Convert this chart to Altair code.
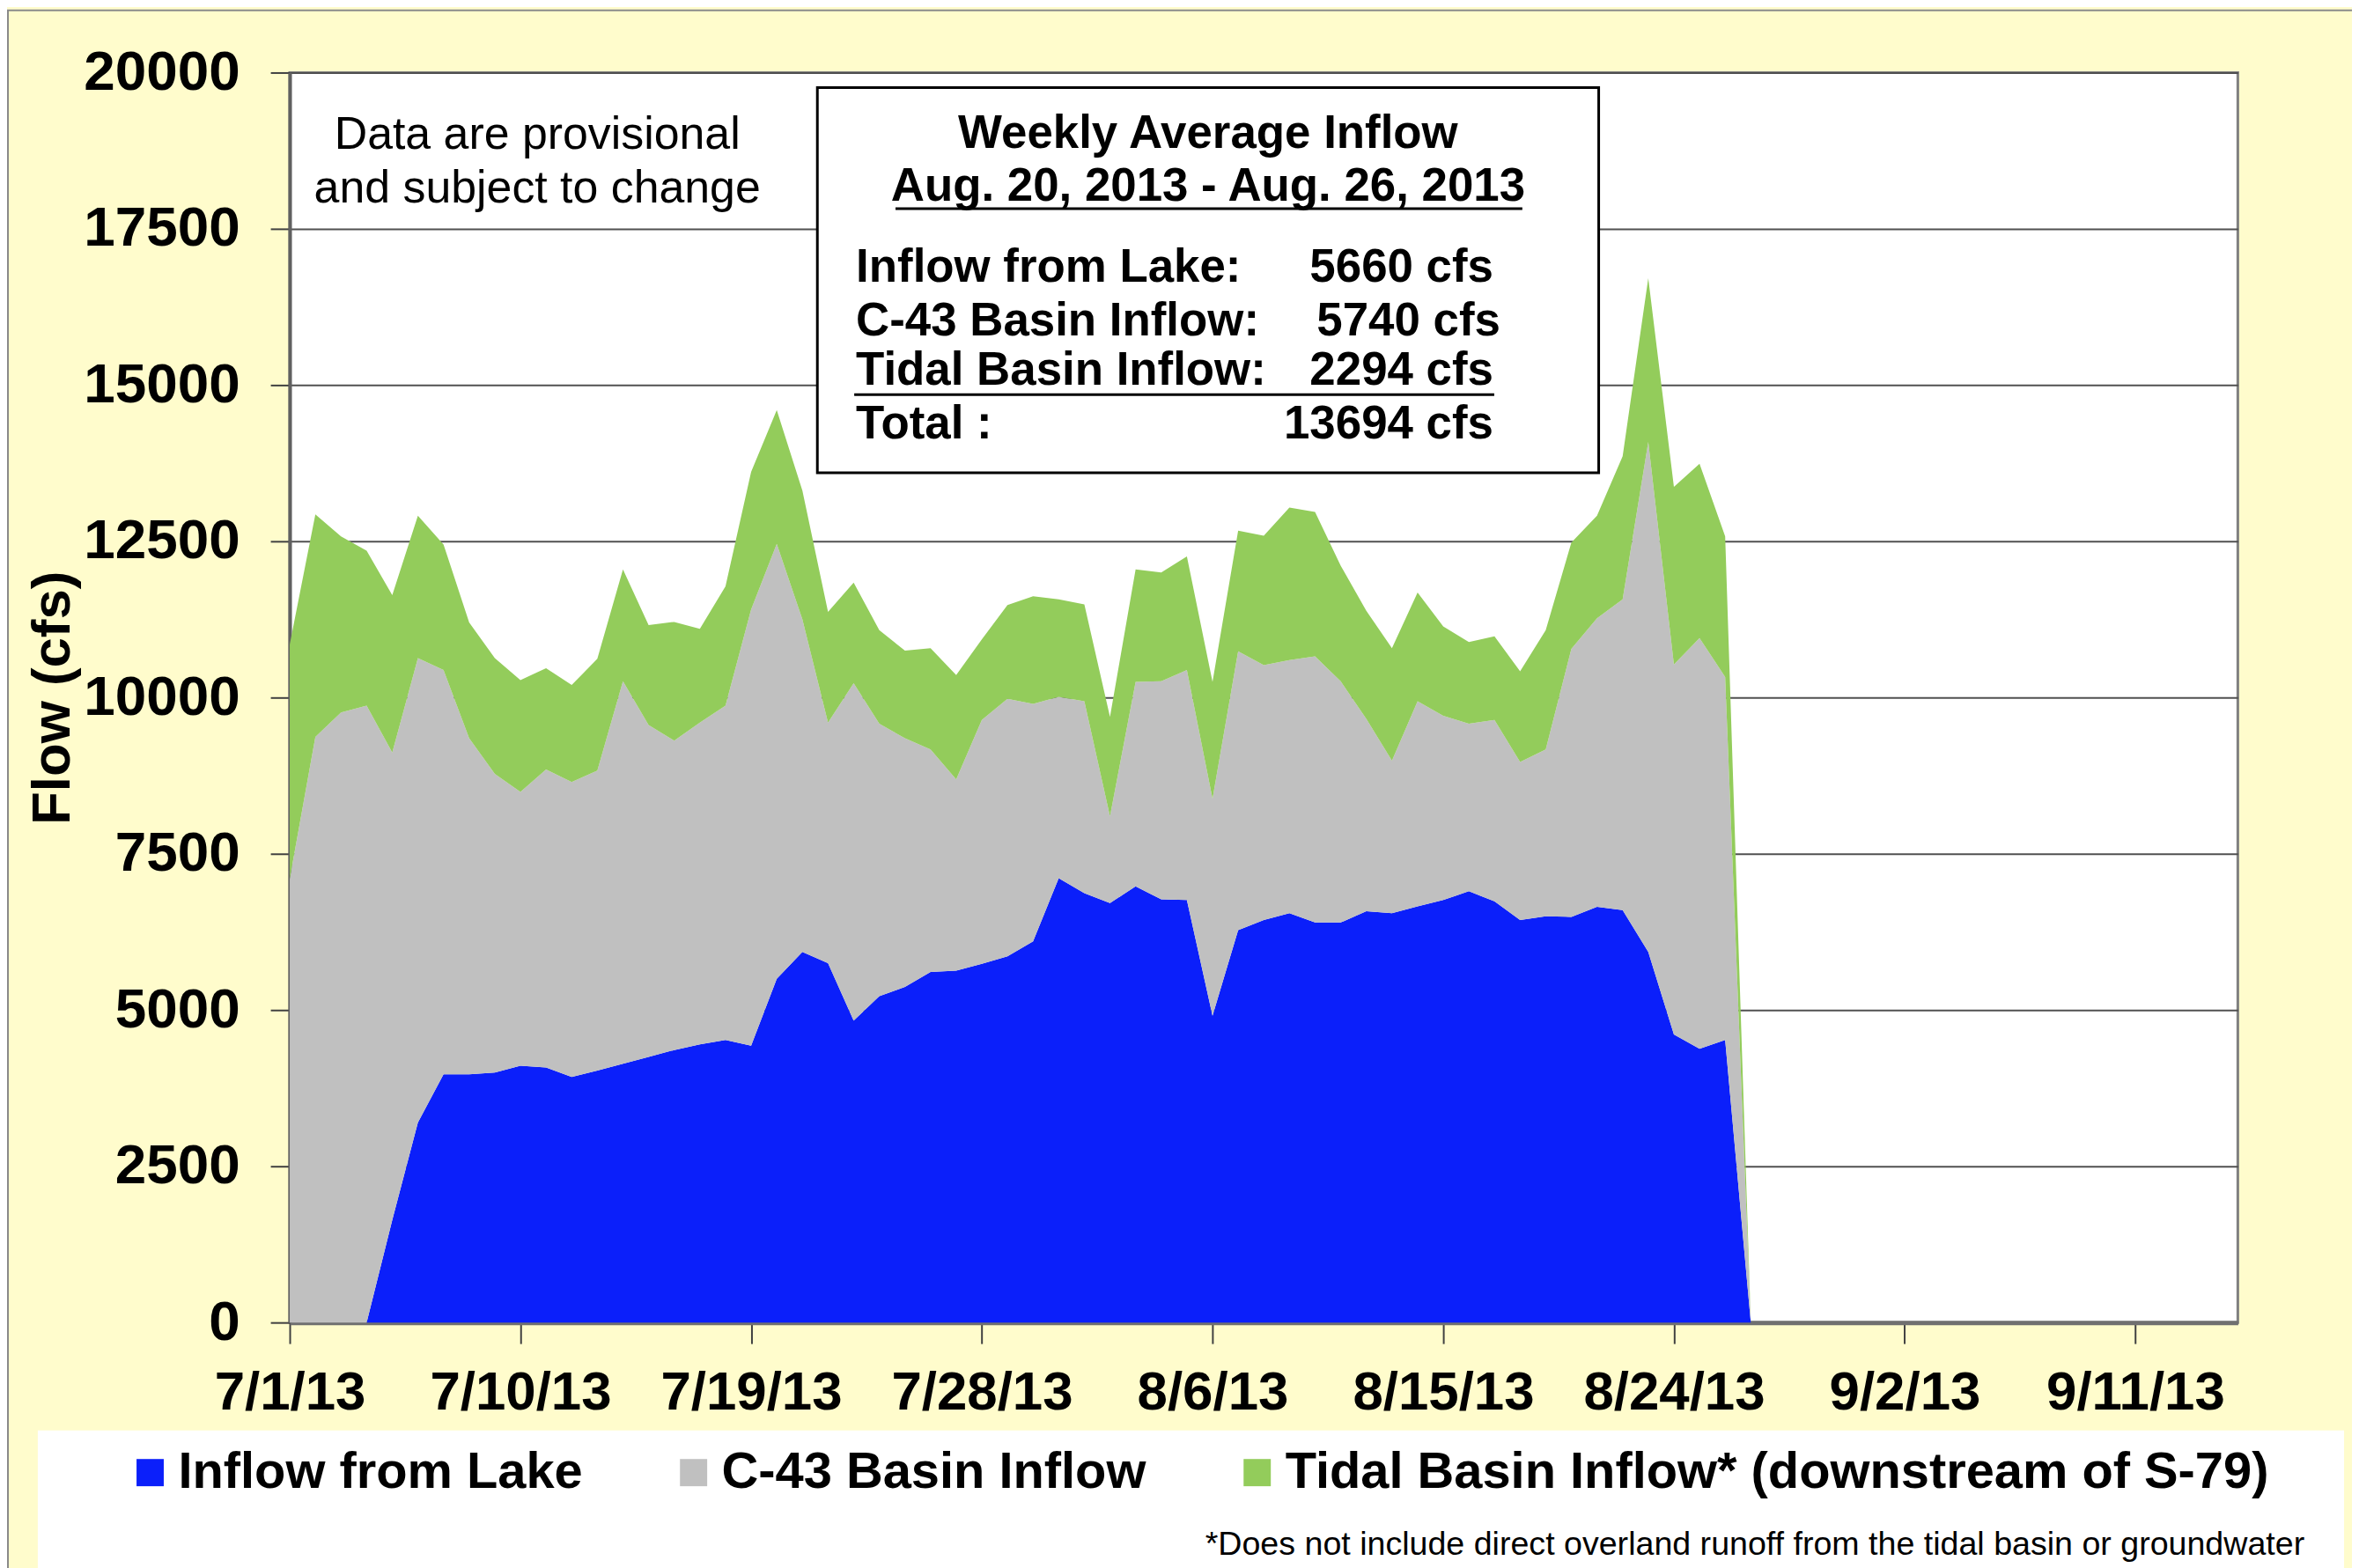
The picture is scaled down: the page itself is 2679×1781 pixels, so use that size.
import altair as alt
import pandas as pd

# ---------------- data ----------------
dates = pd.date_range("2013-07-01", "2013-08-27", freq="D").strftime("%Y-%m-%dT00:00:00Z").tolist()

lake = [0, 0, 0, 0, 1640, 3200, 3970, 3970, 4000, 4110,
        4080, 3930, 4030, 4140, 4250, 4360, 4450, 4520, 4430, 5500,
        5930, 5750, 4830, 5220, 5370, 5610, 5630, 5740, 5860, 6100,
        7110, 6870, 6710, 6980, 6770, 6760, 4910, 6280, 6440, 6550,
        6400, 6400, 6580, 6550, 6660, 6760, 6900, 6740, 6440, 6500,
        6490, 6650, 6600, 5930, 4610, 4380, 4520, 0]

c43 = [7100, 9370, 9760, 9870, 7480, 7430, 6470, 5380, 4780, 4380,
       4770, 4720, 4800, 6120, 5310, 4950, 5150, 5350, 6980, 6960,
       5320, 3850, 5400, 4360, 3980, 3560, 3060, 3900, 4120, 3800,
       2900, 3070, 1390, 3270, 3490, 3680, 3470, 4460, 4080, 4050,
       4260, 3860, 3080, 2440, 3280, 2950, 2680, 2900, 2530, 2670,
       4290, 4620, 4970, 8160, 5920, 6570, 5810, 0]

tidal = [3750, 3560, 2820, 2480, 2520, 2280, 2010, 1850, 1850, 1790,
         1620, 1550, 1790, 1790, 1600, 1900, 1500, 1910, 2200, 2140,
         2060, 1770, 1610, 1500, 1400, 1620, 1670, 1290, 1500, 1720,
         1560, 1550, 1590, 1800, 1740, 1820, 1870, 1930, 2070, 2440,
         2310, 1850, 1730, 1800, 1740, 1430, 1310, 1340, 1450, 1910,
         1700, 1640, 2290, 2620, 2840, 2790, 2250, 0]

series_names = ["Inflow from Lake", "C-43 Basin Inflow", "Tidal Basin Inflow* (downstream of S-79)"]
series_colors = ["#0B1FFA", "#C0C0C0", "#93CC5B"]
y_ticks = [0, 2500, 5000, 7500, 10000, 12500, 15000, 17500, 20000]
x_tick_days = [(7, 1), (7, 10), (7, 19), (7, 28), (8, 6), (8, 15), (8, 24), (9, 2), (9, 11)]
x_domain_days = [(7, 1), (9, 15)]

box_title = "Weekly Average Inflow"
box_period = "Aug. 20, 2013 - Aug. 26, 2013"
box_labels = ["Inflow from Lake:", "C-43 Basin Inflow:", "Tidal Basin Inflow:", "Total :"]
box_values = ["5660 cfs", "5740 cfs", "2294 cfs", "13694 cfs"]
note_lines = ["Data are provisional", "and subject to change"]
footnote = "*Does not include direct overland runoff from the tidal basin or groundwater"

FONT = "Liberation Sans, Arial, sans-serif"

# ---------------- build table ----------------
rows = []
for i, d in enumerate(dates):
    for k, vals in enumerate([lake, c43, tidal]):
        rows.append({"date": d, "series": series_names[k], "flow": vals[i], "ord": k})
df = pd.DataFrame(rows)


def dt(m, d):
    return alt.DateTime(year=2013, month=m, date=d, utc=True)


W, H = 2219, 1424

base = alt.Chart(df).mark_area(opacity=1, interpolate="linear").encode(
    x=alt.X(
        "date:T",
        title=None,
        scale=alt.Scale(type="utc", domain=[dt(*x_domain_days[0]), dt(*x_domain_days[1])]),
        axis=alt.Axis(
            values=[dt(m, d) for m, d in x_tick_days],
            labelExpr="utcFormat(datum.value, '%-m/%-d/%y')",
            grid=False,
            labelFont=FONT, labelFontWeight="bold", labelFontSize=62, labelColor="black",
            labelPadding=26, tickSize=24, tickWidth=2, tickColor="#404040",
            domainColor="#707070", domainWidth=5, labelFlush=False, labelOverlap=False,
            labelLimit=1000,
        ),
    ),
    y=alt.Y(
        "flow:Q",
        stack="zero",
        scale=alt.Scale(domain=[0, 20000], nice=False),
        axis=alt.Axis(
            values=y_ticks, format="d",
            title="Flow (cfs)",
            titleFont=FONT, titleFontWeight="bold", titleFontSize=62, titleColor="black",
            titleAngle=-90, titleX=-270, titleY=H / 2, titleAlign="center", titleBaseline="middle",
            labelFont=FONT, labelFontWeight="bold", labelFontSize=64, labelColor="black",
            labelPadding=35, tickSize=22, tickWidth=2, tickColor="#404040",
            domainColor="#606060", domainWidth=4, labelLimit=1000,
            gridColor="#505050", gridWidth=2,
        ),
    ),
    color=alt.Color(
        "series:N",
        scale=alt.Scale(domain=series_names, range=series_colors),
        legend=alt.Legend(
            title=None, orient="none", legendX=-188, legendY=1566,
            direction="horizontal", columns=3,
            symbolType="square", symbolSize=961, symbolStrokeWidth=0, symbolOpacity=1,
            labelFont=FONT, labelFontWeight="bold", labelFontSize=58, labelColor="black",
            labelLimit=3000, labelOffset=3, columnPadding=97, padding=0,
        ),
    ),
    order=alt.Order("ord:Q", sort="ascending"),
)

one = alt.Data(values=[{}])

legend_bg = alt.Chart(one).mark_rect(fill="white", stroke=None).encode(
    x=alt.value(-287), x2=alt.value(2340), y=alt.value(1547), y2=alt.value(1710)
)
outer_border = alt.Chart(one).mark_rect(fill=None, stroke="#8a8a8a", strokeWidth=2).encode(
    x=alt.value(-321), x2=alt.value(W + 150), y=alt.value(-71), y2=alt.value(H + 300)
)

box = alt.Chart(one).mark_rect(fill="white", stroke="black", strokeWidth=3).encode(
    x=alt.value(601), x2=alt.value(1491), y=alt.value(17), y2=alt.value(456)
)


def txt(s, x, y, align="left", weight="bold", size=53):
    return alt.Chart(one).mark_text(
        text=s, align=align, baseline="alphabetic", font=FONT, fontWeight=weight,
        fontSize=size, color="black"
    ).encode(x=alt.value(x), y=alt.value(y))


def uline(x1, x2, y):
    return alt.Chart(one).mark_rule(color="black", strokeWidth=3).encode(
        x=alt.value(x1), x2=alt.value(x2), y=alt.value(y)
    )


layers = [outer_border, legend_bg, base, box,
          txt(box_title, 1046, 86, "center"),
          txt(box_period, 1046, 146, "center"),
          uline(690, 1404, 155)]
row_y = [238, 299, 356, 417]
val_x = [1371, 1379, 1371, 1371]
for lab, val, yy, vx in zip(box_labels, box_values, row_y, val_x):
    layers.append(txt(lab, 645, yy, "left"))
    layers.append(txt(val, vx, yy, "right"))
layers.append(uline(643, 1372, 367))
layers.append(txt(note_lines[0], 282, 87, "center", "normal", 52))
layers.append(txt(note_lines[1], 282, 148, "center", "normal", 52))
layers.append(txt(footnote, 2295, 1689, "right", "normal", 37.7))

chart = alt.layer(*layers).properties(
    width=W, height=H,
    padding={"left": 322, "top": 72, "right": 130, "bottom": 277},
    autosize=alt.AutoSizeParams(type="none"),
    background="#FFFCCC",
).configure_view(stroke="#808080", strokeWidth=3, fill="white")

chart.save("out.html", embed_options={"renderer": "svg", "actions": False})
